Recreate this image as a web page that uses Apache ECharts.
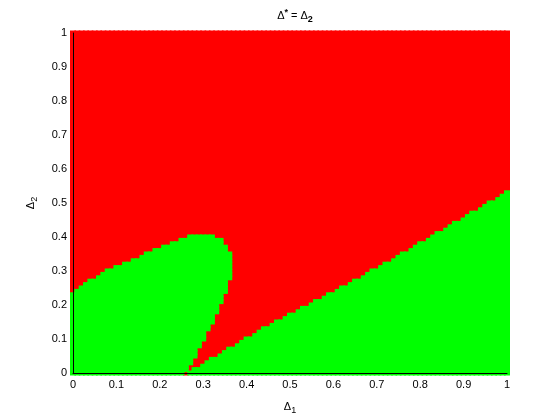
<!DOCTYPE html>
<html>
<head>
<meta charset="utf-8">
<script src="https://cdn.jsdelivr.net/npm/echarts@6/dist/echarts.min.js"></script>
<style>
  html, body { margin: 0; padding: 0; background: #fff; }
  #chart { width: 560px; height: 420px; }
</style>
</head>
<body>
<div id="chart"></div>
<script>
(function() {
  // grid step in both directions (Δ1, Δ2 sampled at 0..100 hundredths)
  var steps = 100;

  // green blob on the left: per column (Δ1 = 0.00..0.36), top and bottom row in hundredths
  var blobTop = [23, 24, 25, 26, 27, 27, 28, 29, 30, 30, 31, 31, 32, 32, 33, 33, 34, 35, 35, 36,
                 36, 37, 37, 38, 38, 39, 39, 40, 40, 40, 40, 40, 40, 39, 39, 37, 35];
  var blobBottom = [0, 0, 0, 0, 0, 0, 0, 0, 0, 0, 0, 0, 0, 0, 0, 0, 0, 0, 0, 0,
                    0, 0, 0, 0, 0, 0, 1, 3, 5, 8, 10, 13, 15, 18, 21, 24, 28];

  // green wedge on the right: top row per column (Δ1 = 0.00..1.00), -1 = none
  var wedgeTop = [-1, -1, -1, -1, -1, -1, -1, -1, -1, -1, -1, -1, -1, -1, -1, -1, -1, -1, -1, -1,
                  -1, -1, -1, -1, -1, -1, -1, 0, 1, 1, 2, 3, 4, 4, 5, 6, 7, 7, 8, 9,
                  10, 10, 11, 12, 13, 13, 14, 15, 15, 16, 17, 17, 18, 19, 19, 20, 21, 21, 22, 23,
                  23, 24, 25, 25, 26, 27, 27, 28, 29, 30, 30, 31, 32, 32, 33, 34, 35, 35, 36, 37,
                  38, 38, 39, 40, 41, 41, 42, 43, 44, 44, 45, 46, 47, 47, 48, 49, 50, 50, 51, 52, 53];

  var redPts = [];
  var greenPts = [];
  for (var i = 0; i <= steps; i++) {
    for (var j = 0; j <= steps; j++) {
      var inBlob = i < blobTop.length && j >= blobBottom[i] && j <= blobTop[i];
      var inWedge = j <= wedgeTop[i];
      var pt = [i / steps, j / steps];
      if (inBlob || inWedge) greenPts.push(pt); else redPts.push(pt);
    }
  }

  var font = '"Liberation Sans", Arial, Helvetica, sans-serif';
  var chart = echarts.init(document.getElementById('chart'), null, { renderer: 'canvas' });
  chart.setOption({
    animation: false,
    backgroundColor: '#fff',
    title: {
      text: '{d|Δ}{s|*}{d| = Δ}{b|2}',
      left: 290,
      textAlign: 'center',
      top: 3,
      textStyle: {
        rich: {
          d: { fontFamily: font, fontSize: 11, color: '#000', fontWeight: 'normal' },
          s: { fontFamily: font, fontSize: 9, color: '#000', verticalAlign: 'top', padding: [0, 0, 6, 0] },
          b: { fontFamily: font, fontSize: 9, color: '#000', verticalAlign: 'bottom', padding: [7, 0, 0, 0] }
        }
      }
    },
    grid: { left: 73, right: 53, top: 33, bottom: 47 },
    xAxis: {
      type: 'value',
      z: 10,
      min: 0,
      max: 1,
      interval: 0.1,
      name: '{d|Δ}{b|1}',
      nameLocation: 'middle',
      nameGap: 26,
      nameTextStyle: {
        rich: {
          d: { fontFamily: font, fontSize: 11, color: '#000' },
          b: { fontFamily: font, fontSize: 9, color: '#000', verticalAlign: 'bottom', padding: [7, 0, 0, 0] }
        }
      },
      axisLine: { lineStyle: { color: '#000', width: 1 } },
      axisTick: { show: false },
      axisLabel: { color: '#000', fontFamily: font, fontSize: 11, margin: 6 },
      splitLine: { show: false }
    },
    yAxis: {
      type: 'value',
      z: 10,
      min: 0,
      max: 1,
      interval: 0.1,
      name: '{d|Δ}{b|2}',
      nameLocation: 'middle',
      nameGap: 34,
      nameRotate: 90,
      nameTextStyle: {
        rich: {
          d: { fontFamily: font, fontSize: 11, color: '#000' },
          b: { fontFamily: font, fontSize: 9, color: '#000', verticalAlign: 'bottom', padding: [7, 0, 0, 0] }
        }
      },
      axisLine: { lineStyle: { color: '#000', width: 1 } },
      axisTick: { show: false },
      axisLabel: { color: '#000', fontFamily: font, fontSize: 11, margin: 6 },
      splitLine: { show: false }
    },
    series: [{
      type: 'scatter',
      clip: false,
      large: false,
      progressive: 0,
      symbol: 'rect',
      symbolSize: [6, 5],
      itemStyle: { color: '#ff0000', opacity: 1 },
      data: redPts
    }, {
      type: 'scatter',
      clip: false,
      large: false,
      progressive: 0,
      symbol: 'rect',
      symbolSize: [6, 5],
      itemStyle: { color: '#00ff00', opacity: 1 },
      data: greenPts
    }]
  });
})();
</script>
</body>
</html>
